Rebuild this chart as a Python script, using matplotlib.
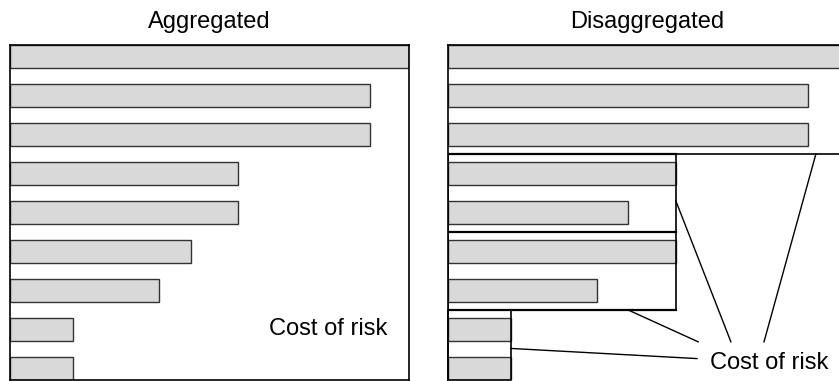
import matplotlib.pyplot as plt
from matplotlib.patches import Rectangle

plt.rcParams['font.family'] = ['Liberation Sans', 'DejaVu Sans']

# bar lengths (share of the largest item), top to bottom
aggregated = [100, 90.2, 90.2, 57.1, 57.1, 45.4, 37.3, 15.8, 15.8]
disaggregated = [100, 90.2, 90.2, 57.1, 45.2, 57.1, 37.3, 15.8, 15.8]
titles = ['Aggregated', 'Disaggregated']
label = 'Cost of risk'

bar_fill = '#d9d9d9'
bar_edge = '#333333'
rows = list(range(len(aggregated)))

W, H = 839, 381
fig = plt.figure(figsize=(W / 100, H / 100), dpi=100)

# axes in pixel boxes: left, top, width, height
ax1 = fig.add_axes([10 / W, 1 / H, 399 / W, 335 / H])
ax2 = fig.add_axes([448 / W, 1 / H, 399 / W, 335 / H])

for ax, vals, title in [(ax1, aggregated, titles[0]), (ax2, disaggregated, titles[1])]:
    ax.barh(rows, vals, height=0.6, color=bar_fill, edgecolor=bar_edge,
            linewidth=1.0, zorder=2)
    ax.set_xlim(0, 100)
    ax.set_ylim(len(vals) - 0.7, -0.3)
    ax.set_xticks([])
    ax.set_yticks([])
    ax.set_title(title, fontsize=17, pad=12)
    for s in ax.spines.values():
        s.set_linewidth(1.2)
        s.set_color('black')

# left panel label
ax1.text(64.9, 7.14, label, fontsize=17, va='baseline', ha='left')

# right panel: grouping boxes
ax2.spines['right'].set_visible(False)
ax2.spines['bottom'].set_visible(False)
mid = disaggregated[3]
small = disaggregated[7]
ax2.plot([0, 100], [2.5, 2.5], color='black', lw=1.2, zorder=3)
ax2.add_patch(Rectangle((0, 2.5), mid, 4.0, fill=False, edgecolor='black',
                        lw=1.2, zorder=3))
ax2.plot([0, mid], [4.5, 4.5], color='black', lw=1.6, zorder=3)
ax2.plot([0, mid], [6.5, 6.5], color='black', lw=1.6, zorder=3)
ax2.plot([0, mid], [2.5, 2.5], color='black', lw=1.6, zorder=3)
ax2.add_patch(Rectangle((0, 6.5), small, 1.8, fill=False, edgecolor='black',
                        lw=1.2, zorder=3, clip_on=False))

# pointer lines to the label
pointers = [
    ((92.2, 2.5), (79.2, 7.32)),
    ((mid, 3.7), (70.9, 7.32)),
    ((45.1, 6.5), (62.7, 7.32)),
    ((small, 7.49), (62.4, 7.75)),
]
for (x0, y0), (x1, y1) in pointers:
    ax2.plot([x0, x1], [y0, y1], color='black', lw=1.0, zorder=3,
             clip_on=False)

ax2.text(65.7, 8.03, label, fontsize=17, va='baseline', ha='left')

fig.savefig('out.png', dpi=100)
